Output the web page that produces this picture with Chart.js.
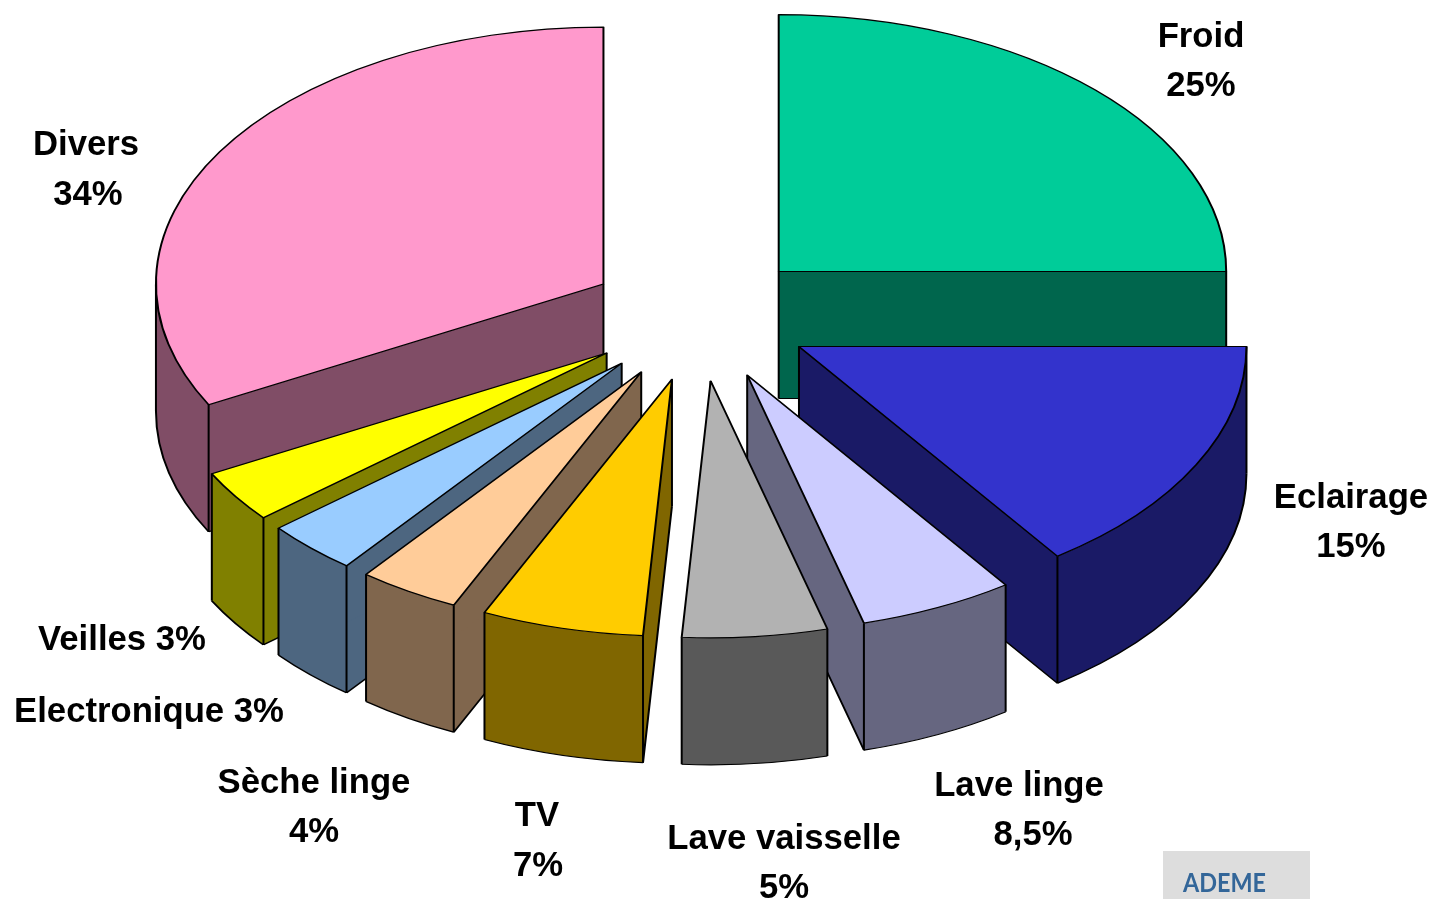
<!DOCTYPE html>
<html lang="fr">
<head>
<meta charset="utf-8">
<title>Consommation d'électricité</title>
<script src="https://cdn.jsdelivr.net/npm/chart.js@4/dist/chart.umd.min.js"></script>
<style>
    html, body { margin: 0; padding: 0; background: #fff; overflow: hidden; }
    #wrap { position: relative; width: 1432px; height: 899px; }
</style>
</head>
<body>
<div id="wrap"><canvas id="camembert" width="1432" height="899"></canvas></div>
<script>
// Postes, dans le sens horaire depuis le haut
const postes = ["Froid", "Eclairage", "Lave linge", "Lave vaisselle", "TV", "Sèche linge", "Electronique", "Veilles", "Divers"];
// Parts telles que dessinées (angles lus sur l'image, pas toujours égaux au % imprimé)
const partsDessinees = [25, 15.2, 5.6, 5.23, 5.85, 3.66, 3.37, 3.29, 32.8];
const pourcentages = ["25%", "15%", "8,5%", "5%", "7%", "4%", "3%", "3%", "34%"];
const couleurs = ["#00CC99", "#3333CC", "#CCCCFF", "#B2B2B2", "#FFCC00", "#FFCC99", "#99CCFF", "#FFFF00", "#FF99CC"];
const couleursSombres = ["#00664D", "#1A1A66", "#666680", "#595959", "#806600", "#80664D", "#4D6680", "#808000", "#804D66"];

// Mise en page du camembert 3D
const centreX = 699.5, centreY = 317;
const rayon = 447.5, ecrasement = 0.574, profondeur = 127, eclatement = 112;
const traitNoir = 2;
const EPS = 1e-6;

// Etiquettes : [texte, centre x, ligne de base]
const etiquettes = [
    [postes[0], 1201, 47], [pourcentages[0], 1201, 96],
    [postes[1], 1351, 508], [pourcentages[1], 1351, 557],
    [postes[2], 1019, 796], [pourcentages[2], 1033, 845],
    [postes[3], 784, 849], [pourcentages[3], 784, 898],
    [postes[4], 537, 826], [pourcentages[4], 538, 876],
    [postes[5], 314, 793], [pourcentages[5], 314, 842],
    [postes[6] + " " + pourcentages[6], 149, 722],
    [postes[7] + " " + pourcentages[7], 122, 650],
    [postes[8], 86, 155], [pourcentages[8], 88, 205],
];

// parois : les deux bords droits et la bande extérieure avant, pris sur l'arc de la librairie
function remplirParois(ctx, arc, hauteur) {
    const r = arc.outerRadius;
    [arc.startAngle, arc.endAngle].forEach((a) => {
        const px = arc.x + Math.cos(a) * r;
        const py = arc.y + Math.sin(a) * r;
        ctx.beginPath();
        ctx.moveTo(arc.x, arc.y);
        ctx.lineTo(px, py);
        ctx.lineTo(px, py + hauteur);
        ctx.lineTo(arc.x, arc.y + hauteur);
        ctx.closePath();
        ctx.fill();
    });
    const debut = Math.max(arc.startAngle, 0), fin = Math.min(arc.endAngle, Math.PI);
    if (fin > debut) {
        ctx.beginPath();
        ctx.arc(arc.x, arc.y, r, debut, fin);
        ctx.arc(arc.x, arc.y + hauteur, r, fin, debut, true);
        ctx.closePath();
        ctx.fill();
    }
}

// arêtes du bas réellement visibles : l'arc avant et les bords dont l'intérieur est au-dessus
function tracerContourBas(ctx, arc, hauteur) {
    const y = arc.y + hauteur;
    const r = arc.outerRadius;
    const s = arc.startAngle, e = arc.endAngle;
    ctx.beginPath();
    if (Math.cos(s) < -EPS) {
        ctx.moveTo(arc.x, y);
        ctx.lineTo(arc.x + Math.cos(s) * r, y + Math.sin(s) * r);
    }
    if (Math.cos(e) > EPS) {
        ctx.moveTo(arc.x, y);
        ctx.lineTo(arc.x + Math.cos(e) * r, y + Math.sin(e) * r);
    }
    const debut = Math.max(s, 0), fin = Math.min(e, Math.PI);
    if (fin > debut) {
        ctx.moveTo(arc.x + Math.cos(debut) * r, y + Math.sin(debut) * r);
        ctx.arc(arc.x, y, r, debut, fin);
    }
    ctx.stroke();
}

function tracerPart(ctx, arc, index) {
    const milieu = (arc.startAngle + arc.endAngle) / 2;
    const hauteur = profondeur / ecrasement;

    ctx.save();
    ctx.translate(Math.cos(milieu) * eclatement, Math.sin(milieu) * eclatement);

    ctx.fillStyle = couleursSombres[index];
    remplirParois(ctx, arc, hauteur);

    ctx.strokeStyle = "#000";
    ctx.lineWidth = traitNoir;
    ctx.lineJoin = "round";
    tracerContourBas(ctx, arc, hauteur);

    // arêtes verticales : sommet, bords avant, et extrême gauche si la part le contient
    const angles = [arc.startAngle, arc.endAngle];
    if (Math.PI > arc.startAngle && Math.PI < arc.endAngle) angles.push(Math.PI);
    ctx.beginPath();
    ctx.moveTo(arc.x, arc.y);
    ctx.lineTo(arc.x, arc.y + hauteur);
    angles.forEach((a) => {
        if (Math.sin(a) < -EPS) return;
        const px = arc.x + Math.cos(a) * arc.outerRadius;
        const py = arc.y + Math.sin(a) * arc.outerRadius;
        ctx.moveTo(px, py);
        ctx.lineTo(px, py + hauteur);
    });
    ctx.stroke();

    // dessus
    arc.draw(ctx);
    ctx.restore();
}

const camembert3D = {
    id: "camembert3D",
    beforeDatasetsDraw(chart) {
        const ctx = chart.ctx;
        const arcs = chart.getDatasetMeta(0).data;
        // du fond vers l'avant
        const ordre = arcs.map((arc, i) => i).sort((a, b) => {
            const ma = (arcs[a].startAngle + arcs[a].endAngle) / 2;
            const mb = (arcs[b].startAngle + arcs[b].endAngle) / 2;
            return Math.sin(ma) - Math.sin(mb);
        });
        ctx.save();
        ctx.translate(centreX, centreY);
        ctx.scale(1, ecrasement);
        ctx.translate(-arcs[0].x, -arcs[0].y);
        ordre.forEach((i) => tracerPart(ctx, arcs[i], i));
        ctx.restore();
        return false;
    },
    afterDraw(chart) {
        const ctx = chart.ctx;
        ctx.save();
        ctx.fillStyle = "#000";
        ctx.font = "bold 34.7px 'Liberation Sans'";
        ctx.textAlign = "center";
        ctx.textBaseline = "alphabetic";
        etiquettes.forEach(([texte, x, y]) => ctx.fillText(texte, x, y));

        // cartouche source
        ctx.fillStyle = "#DDDDDD";
        ctx.fillRect(1163, 851, 147, 48);
        ctx.fillStyle = "#336699";
        ctx.font = "bold 27px Lato";
        ctx.textAlign = "left";
        ctx.fillText("ADEME", 1183, 892, 83);
        ctx.restore();
    },
};

new Chart(document.getElementById("camembert"), {
    type: "pie",
    data: {
        labels: postes,
        datasets: [{
            data: partsDessinees,
            backgroundColor: couleurs,
            borderColor: "#000",
            borderWidth: traitNoir,
            borderJoinStyle: "round",
            radius: rayon,
        }],
    },
    options: {
        responsive: false,
        animation: false,
        events: [],
        plugins: {
            legend: { display: false },
            tooltip: { enabled: false },
        },
    },
    plugins: [camembert3D],
});
</script>
</body>
</html>
